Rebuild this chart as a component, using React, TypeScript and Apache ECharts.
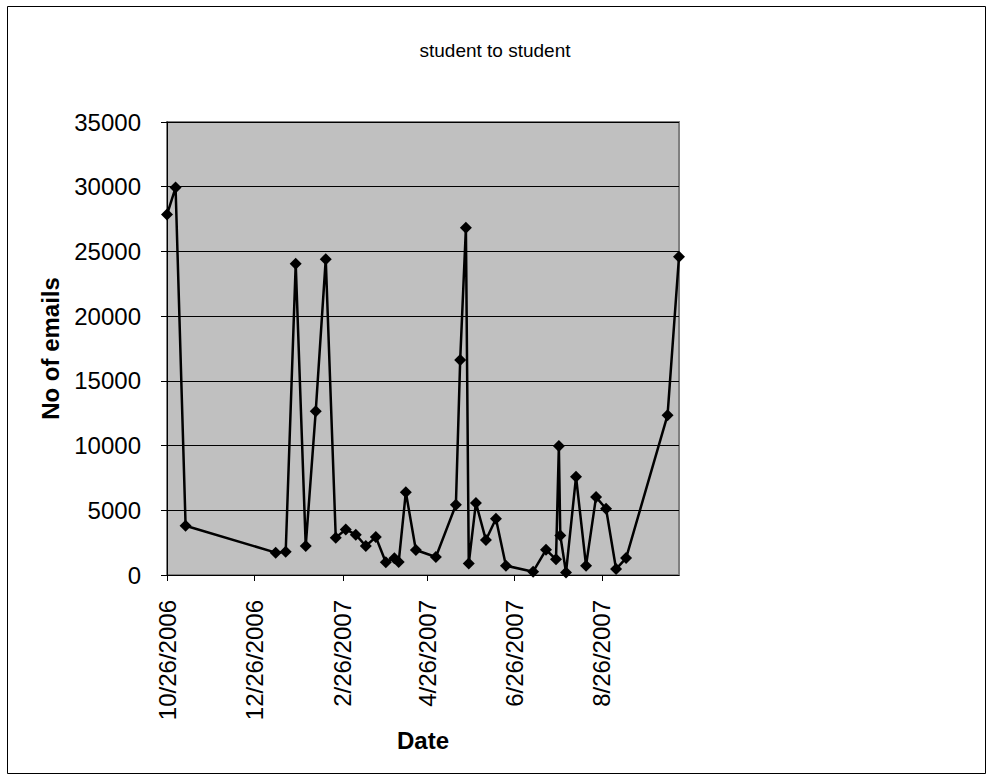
import React, { useEffect, useRef } from "react";
import * as echarts from "echarts";

const dates: string[] = [
  "2006-10-26", "2006-11-01", "2006-11-08", "2007-01-10", "2007-01-17", "2007-01-24",
  "2007-01-31", "2007-02-07", "2007-02-14", "2007-02-21", "2007-02-28", "2007-03-07",
  "2007-03-14", "2007-03-21", "2007-03-28", "2007-04-03", "2007-04-06", "2007-04-11",
  "2007-04-18", "2007-05-02", "2007-05-16", "2007-05-19", "2007-05-23", "2007-05-25",
  "2007-05-30", "2007-06-06", "2007-06-13", "2007-06-20", "2007-07-09", "2007-07-18",
  "2007-07-25", "2007-07-27", "2007-07-28", "2007-08-01", "2007-08-08", "2007-08-15",
  "2007-08-22", "2007-08-29", "2007-09-05", "2007-09-12", "2007-10-11", "2007-10-19",
];

const emails: number[] = [
  27850, 29930, 3810, 1725, 1800, 24050,
  2240, 12660, 24400, 2880, 3525, 3115,
  2240, 2930, 980, 1300, 1000, 6400,
  1930, 1390, 5420, 16620, 26820, 890,
  5570, 2700, 4350, 720, 255, 1950,
  1210, 9970, 3050, 190, 7590, 720,
  6020, 5120, 460, 1310, 12350, 24590,
];

const tickDates: string[] = [
  "2006-10-26", "2006-12-26", "2007-02-26", "2007-04-26", "2007-06-26", "2007-08-26",
];

const axisStart = "2006-10-26";
const axisEnd = "2007-10-19";

const yTicks: number[] = [0, 5000, 10000, 15000, 20000, 25000, 30000, 35000];

const DAY = 86400000;

function toTs(s: string): number {
  const [y, m, d] = s.split("-").map(Number);
  return Date.UTC(y, m - 1, d);
}

function toDay(s: string): number {
  return Math.round((toTs(s) - toTs(axisStart)) / DAY);
}

function fmtDay(day: number): string {
  const d = new Date(toTs(axisStart) + Math.round(day) * DAY);
  return `${d.getUTCMonth() + 1}/${d.getUTCDate()}/${d.getUTCFullYear()}`;
}

export default function App() {
  const ref = useRef<HTMLDivElement>(null);

  useEffect(() => {
    document.body.style.margin = "0";
    if (!ref.current) return;
    const chart = echarts.init(ref.current, null, { renderer: "svg" });
    const font = "'Liberation Sans', Arial, sans-serif";
    const tickDays = tickDates.map(toDay);
    const data = dates.map((d, i) => [toDay(d), emails[i]]);

    chart.setOption({
      animation: false,
      backgroundColor: "#ffffff",
      textStyle: { fontFamily: font, color: "#000" },
      title: {
        text: "student to student",
        left: 490,
        top: 36,
        textAlign: "center",
        textStyle: { fontFamily: font, fontSize: 19, fontWeight: "normal", color: "#000" },
      },
      graphic: [
        {
          type: "rect",
          shape: { x: 7.5, y: 6.5, width: 978, height: 767 },
          style: { fill: "none", stroke: "#000", lineWidth: 1 },
          silent: true,
        },
      ],
      grid: {
        left: 167,
        top: 122,
        right: 1001 - 679,
        bottom: 780 - 575,
        show: true,
        backgroundColor: "#c0c0c0",
        borderColor: "#808080",
        borderWidth: 2,
        containLabel: false,
      },
      xAxis: {
        type: "value",
        min: 0,
        max: toDay(axisEnd),
        name: "Date",
        nameLocation: "middle",
        nameGap: 153,
        nameTextStyle: { fontFamily: font, fontSize: 24, fontWeight: "bold", color: "#000", verticalAlign: "top" },
        axisLine: { show: true, onZero: false, lineStyle: { color: "#000", width: 1 } },
        axisTick: { show: true, inside: false, length: 6, customValues: tickDays, lineStyle: { color: "#000" } },
        axisLabel: {
          customValues: tickDays,
          rotate: 90,
          margin: 25,
          fontFamily: font,
          fontSize: 24,
          color: "#000",
          formatter: (v: number) => fmtDay(v),
        },
        splitLine: { show: false },
      },
      yAxis: {
        type: "value",
        min: 0,
        max: 35000,
        interval: 5000,
        name: "No of emails",
        nameLocation: "middle",
        nameGap: 105,
        nameTextStyle: { fontFamily: font, fontSize: 24, fontWeight: "bold", color: "#000" },
        axisLine: { show: true, lineStyle: { color: "#000", width: 1 } },
        axisTick: { show: true, inside: false, length: 6, lineStyle: { color: "#000" } },
        axisLabel: {
          margin: 26,
          fontFamily: font,
          fontSize: 24,
          color: "#000",
          formatter: (v: number) => (yTicks.includes(v) ? String(v) : ""),
        },
        splitLine: { show: true, lineStyle: { color: "#000", width: 1 } },
      },
      series: [
        {
          type: "line",
          data,
          symbol: "diamond",
          symbolSize: 12,
          showAllSymbol: true,
          lineStyle: { color: "#000", width: 2.5 },
          itemStyle: { color: "#000" },
        },
      ],
    });

    return () => chart.dispose();
  }, []);

  return <div ref={ref} style={{ width: 1001, height: 780 }} />;
}
